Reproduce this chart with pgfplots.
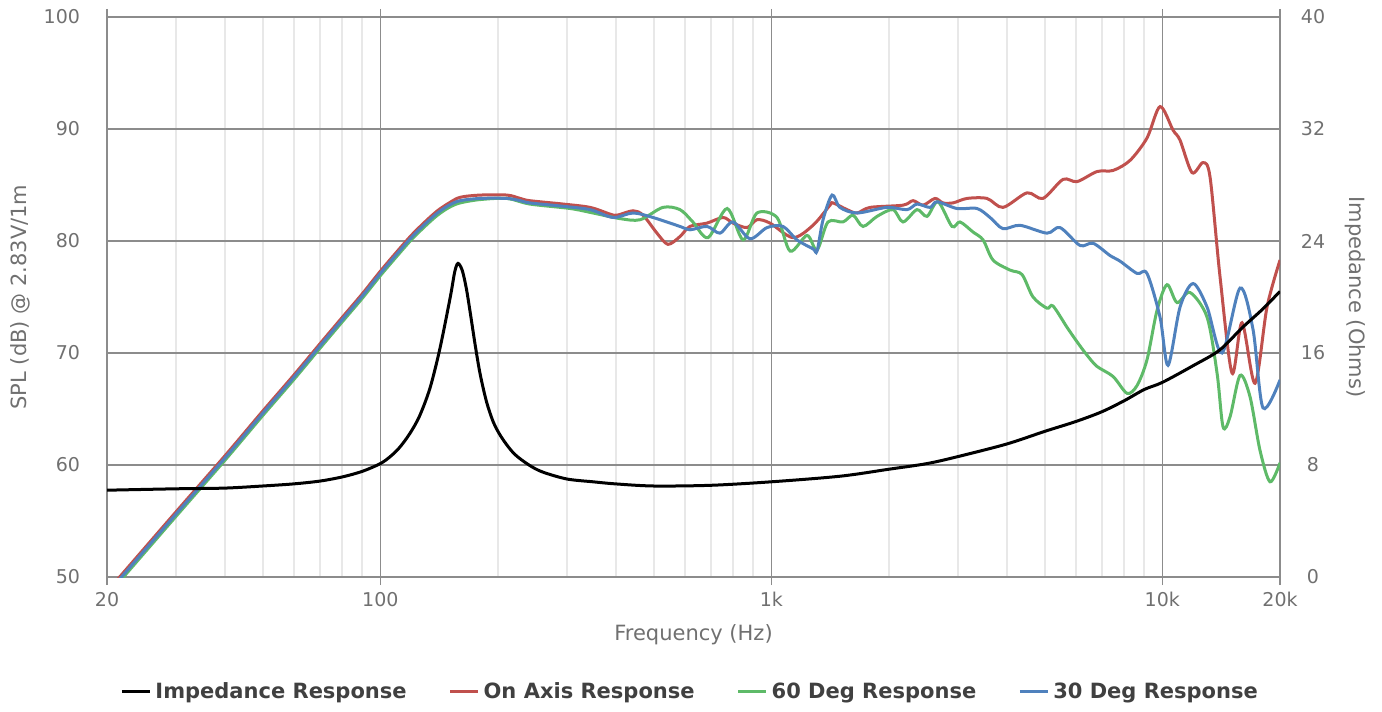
\documentclass[border=0pt]{standalone}
\usepackage{pgfplots}
\pgfplotsset{compat=1.18}
\usepackage{fontspec}
\setmainfont{DejaVu Sans}

\definecolor{onaxis}{RGB}{192,80,77}
\definecolor{deg60}{RGB}{94,186,104}
\definecolor{deg30}{RGB}{79,129,189}
\definecolor{gridmajor}{RGB}{140,140,140}
\definecolor{gridminor}{RGB}{232,232,232}
\definecolor{baseline}{RGB}{200,214,236}
\definecolor{ticktext}{RGB}{112,112,112}
\definecolor{legtext}{RGB}{64,64,64}

\begin{document}
\begin{tikzpicture}
% left axis: SPL in dB
\begin{axis}[name=main,
  width=586.5pt, height=280pt, scale only axis,
  xmode=log, xmin=20, xmax=20000, ymin=50, ymax=100,
  axis line style={draw=none},
  xtick={20,100,1000,10000,20000},
  xticklabels={20,100,1k,10k,20k},
  minor xtick={30,40,50,60,70,80,90,200,300,400,500,600,700,800,900,2000,3000,4000,5000,6000,7000,8000,9000},
  ytick={60,70,80,90,100},
  extra y ticks={50},
  extra y tick style={grid style={color=baseline, line width=1pt}},
  grid=both,
  major grid style={color=gridmajor, line width=0.75pt},
  minor grid style={color=gridminor, line width=1pt},
  tick align=outside,
  major tick length=4pt, minor tick length=0pt,
  xtick style={draw=gridmajor, line width=0.6pt},
  ytick style={draw=none},
  /pgf/number format/assume math mode=true,
  tick label style={font=\fontsize{9.5}{11}\selectfont, text=ticktext},
  yticklabel style={anchor=east, xshift=-6pt},
  xlabel={Frequency (Hz)},
  ylabel={SPL (dB) @ 2.83V/1m},
  every axis x label/.style={at={(axis description cs:0.5,0)}, yshift=-29pt, anchor=center,
    font=\fontsize{10.5}{12}\selectfont, text=ticktext},
  every axis y label/.style={at={(axis description cs:0,0.5)}, xshift=-43.5pt, rotate=90, anchor=center,
    font=\fontsize{10.5}{12}\selectfont, text=ticktext},
]
% On Axis Response
\addplot[onaxis, line width=1.5pt, smooth] coordinates {
(20,48.7) (30,55.8) (40,60.8) (50,64.8) (60,68.0) (70,70.8) (80,73.2) (90,75.3) (100,77.3)
(110,79.0) (120,80.5) (130,81.7) (140,82.7) (150,83.4) (160,83.9) (180,84.1) (211,84.1)
(228,83.8) (241,83.6) (293,83.3)
(344,83.0) (387,82.4) (403,82.3) (443,82.7) (470,82.3) (510,80.7) (544,79.7) (584,80.4)
(619,81.3) (685,81.6) (753,82.1) (798,81.6) (867,81.2) (919,81.9) (992,81.6) (1136,80.3)
(1278,81.4) (1413,83.2) (1438,83.4) (1562,82.8) (1657,82.5) (1789,83.0) (2172,83.2)
(2304,83.6) (2444,83.2) (2622,83.8) (2748,83.4) (2915,83.4) (3166,83.8) (3562,83.8)
(3914,83.0) (4508,84.3) (4952,83.8) (5572,85.5) (6052,85.3) (6808,86.2) (7484,86.3)
(8270,87.2) (9138,89.2) (9866,92.0) (10650,89.9) (11100,89.0) (11914,86.1) (12712,87.0)
(13246,85.7) (14048,76.8) (15078,68.2) (15992,72.7) (17264,67.3) (18526,74.1) (20000,78.3)
};
% 60 Deg Response
\addplot[deg60, line width=1.5pt, smooth] coordinates {
(20,48.3) (30,55.4) (40,60.4) (50,64.4) (60,67.6) (70,70.4) (80,72.8) (90,74.9) (100,76.9)
(110,78.6) (120,80.1) (130,81.3) (140,82.3) (150,83.0) (160,83.4) (180,83.7) (211,83.8)
(241,83.3) (306,82.9) (350,82.5)
(410,82.0) (462,81.9) (528,83.0) (584,82.8) (630,81.7) (689,80.3) (771,82.9) (847,80.1)
(919,82.5) (1034,82.1) (1117,79.1) (1234,80.5) (1309,79.2) (1396,81.7) (1525,81.7)
(1618,82.3) (1716,81.3) (1864,82.2) (2047,82.8) (2172,81.7) (2358,82.8) (2502,82.2)
(2669,83.5) (2898,81.3) (3038,81.7) (3280,80.8) (3480,80.1) (3690,78.3) (4080,77.4)
(4378,77.0) (4670,75.0) (5070,74.0) (5252,74.2) (5704,72.3) (6052,71.0) (6420,69.8)
(6808,68.8) (7484,67.9) (8126,66.4) (8618,67.1) (9138,69.4) (9692,73.8) (10280,76.1)
(10906,74.5) (11774,75.4) (13014,73.2) (13804,68.2) (14300,63.4) (14900,64.3)
(15806,68.0) (16760,66.1) (17778,61.3) (18854,58.5) (20000,60.2)
};
% 30 Deg Response
\addplot[deg30, line width=1.5pt, smooth] coordinates {
(20,48.5) (30,55.6) (40,60.6) (50,64.6) (60,67.8) (70,70.6) (80,73.0) (90,75.1) (100,77.1)
(110,78.8) (120,80.3) (130,81.5) (140,82.5) (150,83.2) (160,83.6) (180,83.8) (211,83.8)
(228,83.6) (241,83.4) (293,83.1)
(344,82.8) (394,82.1) (443,82.5) (498,82.1) (584,81.3) (619,81.0) (685,81.3) (739,80.7)
(798,81.7) (882,80.2) (975,81.2) (1071,81.3) (1163,80.1) (1278,79.3) (1309,79.1)
(1356,81.9) (1430,84.1) (1498,83.0) (1657,82.5) (1977,83.0) (2224,82.8) (2358,83.3)
(2546,83.0) (2654,83.5) (2985,82.9) (3359,82.9) (3626,82.1) (3914,81.1) (4326,81.4)
(5070,80.7) (5474,81.2) (6160,79.6) (6650,79.8) (7352,78.7) (7798,78.2) (8618,77.1)
(9138,77.1) (9866,73.2) (10342,68.9) (11100,74.1) (11984,76.2) (13014,74.1)
(14216,70.0) (15806,75.8) (17060,72.1) (18094,65.1) (20000,67.6)
};
\end{axis}

% right axis: impedance in ohms
\begin{axis}[at={(main.south west)}, anchor=south west,
  width=586.5pt, height=280pt, scale only axis,
  xmode=log, xmin=20, xmax=20000, ymin=0, ymax=40,
  axis x line=none, axis y line*=right,
  y axis line style={draw=none},
  ytick={0,8,16,24,32,40},
  ytick style={draw=none},
  /pgf/number format/assume math mode=true,
  tick label style={font=\fontsize{9.5}{11}\selectfont, text=ticktext},
  yticklabel style={anchor=center, xshift=16.5pt},
  ylabel={Impedance (Ohms)},
  every axis y label/.style={at={(axis description cs:1,0.5)}, xshift=37.5pt, rotate=-90, anchor=center,
    font=\fontsize{10.5}{12}\selectfont, text=ticktext},
  legend style={at={(0.498,-0.205)}, anchor=center, draw=none, fill=none,
    legend columns=-1, font=\bfseries\fontsize{10.5}{12}\selectfont, text=legtext,
    /tikz/every even column/.append style={column sep=19pt}},
  legend image code/.code={\draw[#1, line width=1.5pt] (0pt,0pt) -- (14pt,0pt);},
]
\addplot[black, line width=1.5pt, smooth] coordinates {
(20,6.2) (30,6.3) (40,6.35) (50,6.5) (60,6.65) (70,6.85) (80,7.15) (90,7.55) (100,8.1)
(106,8.6) (112,9.25) (119,10.25) (126,11.5) (134,13.5) (142,16.3) (151,20.0) (155,21.8)
(158,22.4) (162,21.9) (166,20.6) (170,18.8) (175,16.5) (180,14.5)
(187,12.5) (195,11.0) (205,9.9) (220,8.8) (240,8.0) (260,7.5) (300,7.0) (350,6.8)
(400,6.65) (500,6.5) (700,6.55) (1000,6.8) (1500,7.2) (2000,7.7) (2500,8.1) (3000,8.6)
(4000,9.5) (5000,10.4) (6000,11.1) (7000,11.8) (8000,12.6) (9000,13.4) (10000,13.9)
(12000,15.1) (14000,16.2) (16000,17.8) (18000,19.1) (20000,20.4)
};
\addlegendentry{Impedance Response}
\addlegendimage{onaxis}
\addlegendentry{On Axis Response}
\addlegendimage{deg60}
\addlegendentry{60 Deg Response}
\addlegendimage{deg30}
\addlegendentry{30 Deg Response}
\end{axis}

\pgfresetboundingbox
\path[use as bounding box] ([shift={(-53.5pt,-67pt)}]main.south west) rectangle ([shift={(51pt,8.5pt)}]main.north east);
\end{tikzpicture}
\end{document}
